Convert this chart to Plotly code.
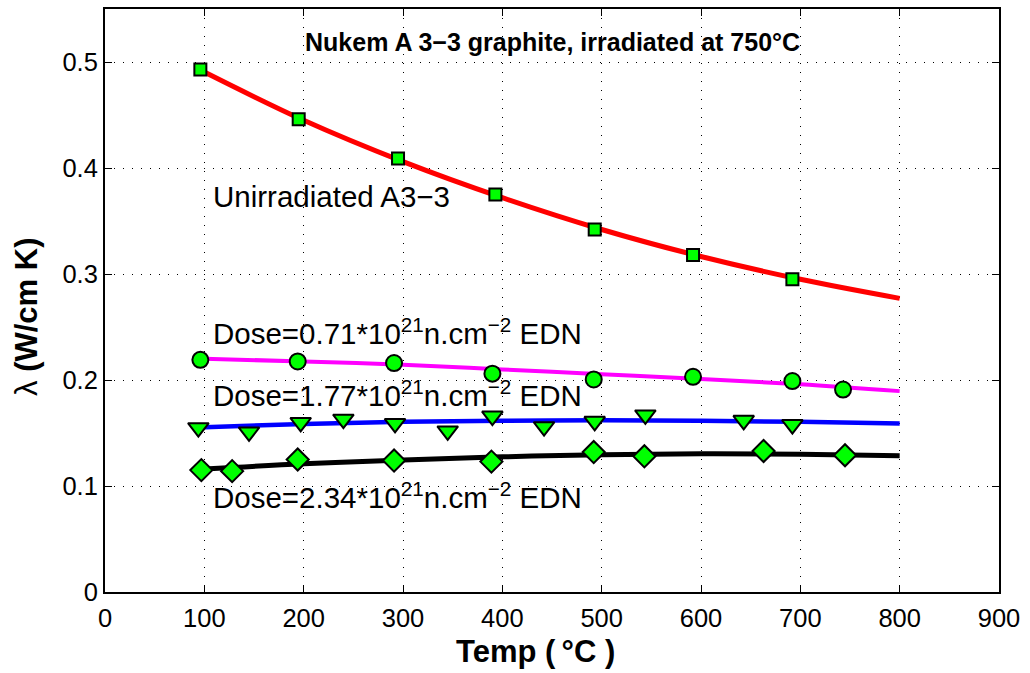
import plotly.graph_objects as go

# Fitted curves sampled every 100 °C
fit_temp = [100, 200, 300, 400, 500, 600, 700, 800]
fit_unirr = [0.4905, 0.445, 0.406, 0.372, 0.342, 0.3165, 0.295, 0.277]
fit_d071 = [0.220, 0.2175, 0.2145, 0.210, 0.2055, 0.201, 0.196, 0.1895]
fit_d177 = [0.1555, 0.1585, 0.1605, 0.1615, 0.162, 0.1615, 0.1605, 0.159]
fit_d234 = [0.116, 0.121, 0.1245, 0.1275, 0.1295, 0.1305, 0.130, 0.1285]

# Measured points
unirr_t = [96, 195, 295, 393, 493, 592, 692]
unirr_k = [0.493, 0.446, 0.409, 0.375, 0.342, 0.318, 0.295]

d071_t = [96, 194, 291, 390, 492, 592, 692, 743]
d071_k = [0.219, 0.2175, 0.216, 0.206, 0.2005, 0.203, 0.199, 0.191]

d177_t = [94, 145, 197, 240, 292, 345, 390, 442, 493, 544, 643, 692]
d177_k = [0.155, 0.151, 0.160, 0.163, 0.159, 0.152, 0.166, 0.156, 0.161, 0.167, 0.162, 0.158]

d234_t = [97, 128, 194, 291, 389, 492, 543, 663, 745]
d234_k = [0.115, 0.114, 0.125, 0.124, 0.123, 0.132, 0.128, 0.133, 0.129]

x_ticks = [0, 100, 200, 300, 400, 500, 600, 700, 800, 900]
y_ticks = [0, 0.1, 0.2, 0.3, 0.4, 0.5]

FONT = "Liberation Sans, Arial, Helvetica, sans-serif"
GREEN = "#00ff00"

fig = go.Figure()

curves = [
    (fit_unirr, "#ff0000", 5),
    (fit_d071, "#ff00ff", 4),
    (fit_d177, "#0000ff", 4.5),
    (fit_d234, "#000000", 5),
]
for vals, col, w in curves:
    fig.add_trace(go.Scatter(x=fit_temp, y=vals, mode="lines",
                             line=dict(color=col, width=w, shape="spline"),
                             showlegend=False, hoverinfo="skip"))

points = [
    (unirr_t, unirr_k, "square", 12),
    (d071_t, d071_k, "circle", 16),
    (d177_t, d177_k, "triangle-down", 18),
    (d234_t, d234_k, "diamond", 17),
]
for xs, ys, sym, sz in points:
    fig.add_trace(go.Scatter(x=xs, y=ys, mode="markers",
                             marker=dict(symbol=sym, size=sz, color=GREEN,
                                         line=dict(color="black", width=2)),
                             showlegend=False))

ann_font = dict(family=FONT, size=29.5, color="black")
labels = [
    ("Unirradiated A3\u22123", 0.373),
    ("Dose=0.71*10<sup>21</sup>n.cm<sup>\u22122</sup> EDN", 0.246),
    ("Dose=1.77*10<sup>21</sup>n.cm<sup>\u22122</sup> EDN", 0.187),
    ("Dose=2.34*10<sup>21</sup>n.cm<sup>\u22122</sup> EDN", 0.091),
]
for txt, yv in labels:
    fig.add_annotation(x=107, y=yv, text=txt, showarrow=False,
                       xanchor="left", yanchor="middle", font=ann_font)

# Chart title inside the axes box
fig.add_annotation(x=0.501, y=0.943, xref="paper", yref="paper",
                   text="<b>Nukem A 3\u22123 graphite, irradiated at 750\u00b0C</b>",
                   showarrow=False, xanchor="center", yanchor="middle",
                   font=dict(family=FONT, size=25, color="black"))

# Axis titles
title_font = dict(family=FONT, size=31, color="black")
fig.add_annotation(x=0.481, y=-0.1026, xref="paper", yref="paper",
                   text="<b>Temp (\u2009\u00b0C )</b>", showarrow=False,
                   xanchor="center", yanchor="middle", font=title_font)
fig.add_annotation(x=-0.0872, y=0.4718, xref="paper", yref="paper",
                   text="\u03bb <b>(W/cm K)</b>", showarrow=False, textangle=-90,
                   xanchor="center", yanchor="middle", font=title_font)

axis_common = dict(
    showline=True, linecolor="black", linewidth=2, mirror="allticks",
    ticks="inside", ticklen=7, tickwidth=1, tickcolor="black",
    showgrid=True, gridcolor="black", gridwidth=1, griddash="1px,8px",
    zeroline=False, tickfont=dict(family=FONT, size=25.5, color="black"),
)

fig.update_xaxes(range=[0, 900], tickvals=x_ticks, ticktext=[str(v) for v in x_ticks],
                 ticklabelstandoff=2, **axis_common)
fig.update_yaxes(range=[0, 0.55], tickvals=y_ticks,
                 ticktext=["0", "0.1", "0.2", "0.3", "0.4", "0.5"],
                 **axis_common)

fig.update_layout(
    width=1030, height=673,
    margin=dict(l=105, r=31, t=7, b=81),
    plot_bgcolor="white", paper_bgcolor="white",
    showlegend=False,
)

fig.write_html("out.html")
